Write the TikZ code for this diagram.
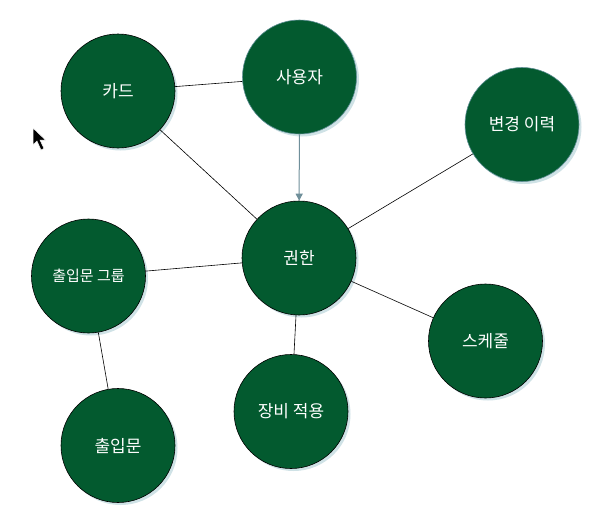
\documentclass[tikz,border=0pt]{standalone}
\usepackage{fontspec}
\setmainfont{Noto Sans CJK KR}
\usetikzlibrary{shadows,arrows.meta}
\definecolor{nodegreen}{HTML}{035A2F}
\definecolor{shadowc}{HTML}{CFE2E6}
\definecolor{tealborder}{HTML}{5E8E94}
\definecolor{arrowc}{HTML}{6F8F9A}
\tikzset{
  ent/.style={circle, minimum size=114pt, inner sep=0pt, fill=nodegreen, draw=black, line width=0.6pt,
    text=white, font=\fontsize{17}{19}\selectfont,
    drop shadow={shadow xshift=2.5pt, shadow yshift=-2.5pt, fill=shadowc, opacity=1}},
  tealent/.style={ent, draw=tealborder},
  link/.style={draw=black, line width=0.6pt},
  arrowlink/.style={draw=arrowc, line width=1pt, -{Triangle[length=7pt,width=7pt]}}
}
\begin{document}
\begin{tikzpicture}[x=1pt,y=-1pt]
\useasboundingbox (0,0) rectangle (609,525);
\fill[white] (0,0) rectangle (609,525);
% nodes
\node[ent] (card) at (118,91) {카드};
\node[tealent] (user) at (299.5,77) {사용자};
\node[tealent] (hist) at (522,124.5) {변경 이력};
\node[ent] (perm) at (299,258) {권한};
\node[ent, font=\fontsize{15}{17}\selectfont] (group) at (88.5,276) {출입문 그룹};
\node[ent] (sched) at (485.5,341) {스케줄};
\node[ent] (equip) at (291,411.5) {장비 적용};
\node[ent] (door) at (118,445.5) {출입문};
% connectors
\draw[link] (card) -- (user);
\draw[link] (card) -- (perm);
\draw[link] (hist) -- (perm);
\draw[link] (group) -- (perm);
\draw[link] (group) -- (door);
\draw[link] (perm) -- (equip);
\draw[link] (perm) -- (sched);
\draw[arrowlink] (user) -- (perm);
% mouse cursor
\filldraw[fill=black, draw=white, line width=0.5pt]
  (33,128) -- (33,145) -- (37,141) -- (41,150) -- (44,148.5) -- (40,140) -- (45.5,140) -- cycle;
\end{tikzpicture}
\end{document}
